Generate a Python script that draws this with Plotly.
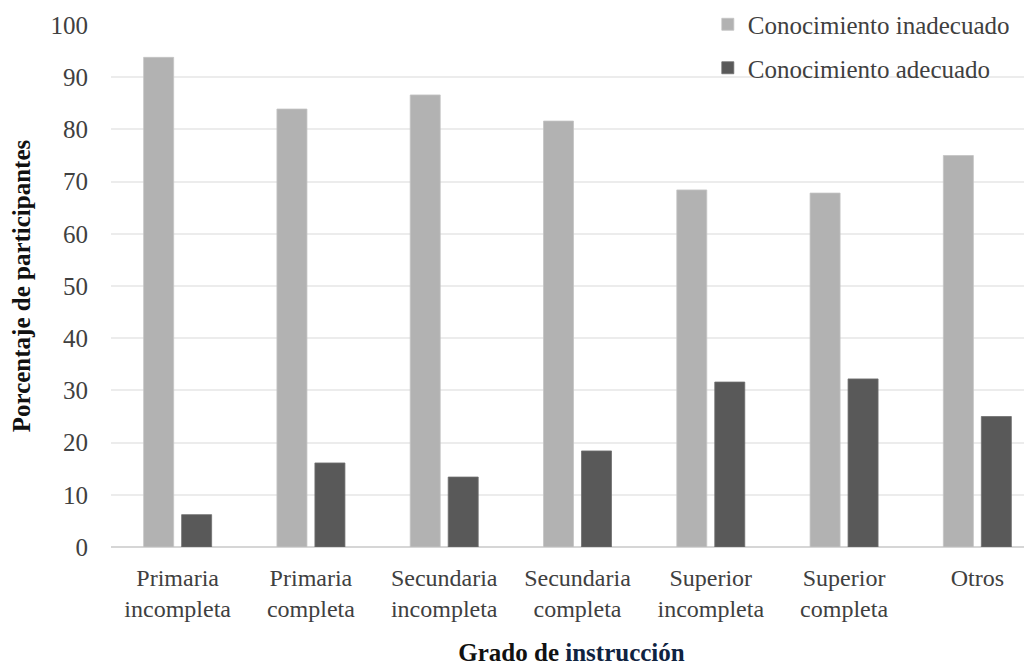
import plotly.graph_objects as go

categories = ["Primaria<br>incompleta", "Primaria<br>completa", "Secundaria<br>incompleta",
              "Secundaria<br>completa", "Superior<br>incompleta", "Superior<br>completa", "Otros"]
inadecuado = [93.8, 83.9, 86.6, 81.6, 68.4, 67.8, 75.0]
adecuado = [6.2, 16.1, 13.4, 18.4, 31.6, 32.2, 25.0]
y_ticks = [0, 10, 20, 30, 40, 50, 60, 70, 80, 90, 100]

FONT = "Liberation Serif"

fig = go.Figure()
fig.add_trace(go.Bar(x=categories, y=inadecuado, name="Conocimiento inadecuado",
                     marker=dict(color="#b2b2b2", line=dict(color="#c4c4c4", width=0.8)),
                     legendgroup="a"))
fig.add_trace(go.Bar(x=categories, y=adecuado, name="Conocimiento adecuado",
                     marker=dict(color="#595959", line=dict(color="#6e6e6e", width=0.8)),
                     legendgroup="b"))

# The page body has an 8px margin, so the figure is sized to fit the window.
fig.update_layout(
    width=1024, height=659,
    margin=dict(l=103, r=0, t=17, b=120, autoexpand=False),
    paper_bgcolor="white", plot_bgcolor="white",
    barmode="group", bargap=0.43, bargroupgap=0.21,
    font=dict(family=FONT, size=25, color="#404040"),
    legend=dict(x=0.648, y=1.045, xanchor="left", yanchor="top",
                font=dict(family=FONT, size=25, color="#404040"),
                bgcolor="rgba(255,255,255,0)", traceorder="grouped", tracegroupgap=8,
                itemwidth=30),
    showlegend=True,
)
fig.update_xaxes(
    range=[-0.5, 6.41], showgrid=False, showline=False, zeroline=False,
    tickfont=dict(family=FONT, size=24, color="#404040"),
    ticks="outside", ticklen=9, tickcolor="rgba(0,0,0,0)",
    title=dict(text="<b>Grado de <span style='color:#0f2341'>instrucción</span></b>",
               font=dict(family=FONT, size=25, color="#111111"), standoff=22),
)
fig.update_yaxes(
    range=[0, 100], tickvals=y_ticks, showgrid=True, gridcolor="#ececec", gridwidth=1.5,
    zeroline=True, zerolinecolor="#d6d6d6", zerolinewidth=1.5, showline=False,
    tickfont=dict(family=FONT, size=25, color="#404040"),
    ticks="outside", ticklen=17, tickcolor="rgba(0,0,0,0)",
    title=dict(text="<b>Porcentaje de participantes</b>",
               font=dict(family=FONT, size=25, color="#111111"), standoff=14),
)

fig.write_html("out.html")
